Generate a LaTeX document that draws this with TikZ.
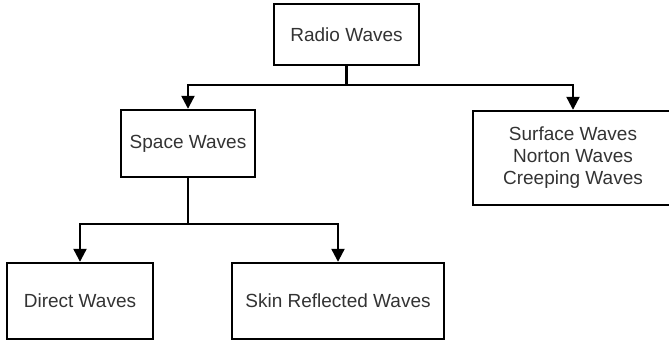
\documentclass[tikz,border=0pt]{standalone}
\usepackage{fontspec}
\setmainfont{Liberation Sans}
\usetikzlibrary{arrows.meta}
\definecolor{txt}{HTML}{333333}
\begin{document}
\begin{tikzpicture}[x=1pt,y=-1pt,
  box/.style={draw=black,line width=2.4pt,rectangle,inner sep=0pt,align=center,
    font=\fontsize{19}{22}\selectfont,text=txt},
  conn/.style={draw=black,line width=2.2pt},
  arr/.style={conn,-{Triangle[length=13pt,width=13pt]}}]
\useasboundingbox (0,0) rectangle (669,341);
\node[box,minimum width=145pt,minimum height=61pt] (radio) at (346.5,34.5) {Radio Waves};
\node[box,minimum width=134pt,minimum height=67pt] (space) at (188,143.5) {Space Waves};
\node[box,minimum width=200pt,minimum height=94pt] (surface) at (573,158) {Surface Waves\\Norton Waves\\Creeping Waves};
\node[box,minimum width=146pt,minimum height=76pt] (direct) at (80,301) {Direct Waves};
\node[box,minimum width=212pt,minimum height=76pt] (skin) at (338,301) {Skin Reflected Waves};
\coordinate (j1) at (346.5,85);
\coordinate (j2) at (188,224);
\draw[conn] (radio.south) -- (j1);
\draw[arr] (j1) -| (space.north);
\draw[arr] (j1) -| (surface.north);
\draw[conn] (space.south) -- (j2);
\draw[arr] (j2) -| (direct.north);
\draw[arr] (j2) -| (skin.north);
\end{tikzpicture}
\end{document}
